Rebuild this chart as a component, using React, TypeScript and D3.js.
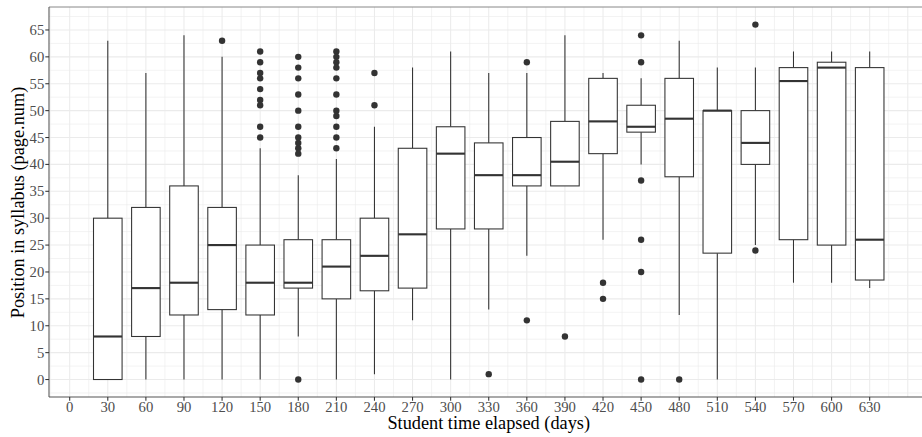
import React from "react";
import * as d3 from "d3";

const days = [30, 60, 90, 120, 150, 180, 210, 240, 270, 300, 330, 360, 390, 420, 450, 480, 510, 540, 570, 600, 630];
const lowerWhisker = [0, 0, 0, 0, 0, 8, 0, 1, 11, 0, 13, 23, 36, 26, 40, 12, 0, 25, 18, 18, 17];
const q1 = [0, 8, 12, 13, 12, 17, 15, 16.5, 17, 28, 28, 36, 36, 42, 46, 37.7, 23.5, 40, 26, 25, 18.5];
const medians = [8, 17, 18, 25, 18, 18, 21, 23, 27, 42, 38, 38, 40.5, 48, 47, 48.5, 50, 44, 55.5, 58, 26];
const q3 = [30, 32, 36, 32, 25, 26, 26, 30, 43, 47, 44, 45, 48, 56, 51, 56, 50, 50, 58, 59, 58];
const upperWhisker = [63, 57, 64, 60, 43, 38, 41, 47, 58, 61, 57, 57, 64, 57, 56, 63, 58, 58, 61, 61, 61];
const outliers = [
  [], [], [], [63],
  [61, 59, 57, 56, 54, 52, 51, 47, 45],
  [60, 58, 56, 53, 50, 47, 45, 44, 43, 42, 0],
  [61, 60, 59, 58, 56, 53, 50, 49, 47, 45, 43],
  [57, 51],
  [], [],
  [1],
  [59, 11],
  [8],
  [18, 15],
  [64, 59, 37, 26, 20, 0],
  [0],
  [],
  [66, 24],
  [], [], [],
];
const xTicks = [0, 30, 60, 90, 120, 150, 180, 210, 240, 270, 300, 330, 360, 390, 420, 450, 480, 510, 540, 570, 600, 630];
const yTicks = [0, 5, 10, 15, 20, 25, 30, 35, 40, 45, 50, 55, 60, 65];

const W = 922, H = 437;
const left = 49, top = 7, bottom = 397, right = 922;

export default function App() {
  const x = d3.scaleLinear().domain([-16.3, 671.2]).range([left, right]);
  const y = d3.scaleLinear().domain([-3.25, 69.27]).range([bottom, top]);
  const boxHalf = 11.25;
  const font = "'Liberation Serif', 'DejaVu Serif', serif";

  const vMinor = d3.range(-15, 690, 15);
  const hMinor = d3.range(-2.5, 70, 2.5);

  return (
    <svg width={W} height={H} style={{ position: "absolute", left: 0, top: 0, background: "#fff" }}>
      <rect x={0} y={0} width={W} height={H} fill="#fff" />
      {hMinor.filter(v => y(v) > top && y(v) < bottom).map(v => (
        <line key={"h" + v} x1={left} x2={right} y1={y(v)} y2={y(v)} stroke="#EBEBEB" strokeWidth={v % 5 === 0 ? 1.07 : 0.6} />
      ))}
      {vMinor.filter(v => x(v) > left && x(v) < right).map(v => (
        <line key={"v" + v} y1={top} y2={bottom} x1={x(v)} x2={x(v)} stroke="#EBEBEB" strokeWidth={v % 30 === 0 ? 1.07 : 0.6} />
      ))}
      {days.map((d, i) => {
        const cx = x(d);
        const x0 = x(d - boxHalf), x1 = x(d + boxHalf);
        return (
          <g key={"b" + d}>
            <line x1={cx} x2={cx} y1={y(q3[i])} y2={y(upperWhisker[i])} stroke="#333" strokeWidth={1.07} />
            <line x1={cx} x2={cx} y1={y(q1[i])} y2={y(lowerWhisker[i])} stroke="#333" strokeWidth={1.07} />
            <rect x={x0} y={y(q3[i])} width={x1 - x0} height={y(q1[i]) - y(q3[i])} fill="#fff" stroke="#333" strokeWidth={1.07} />
            <line x1={x0} x2={x1} y1={y(medians[i])} y2={y(medians[i])} stroke="#333" strokeWidth={2.13} />
            {outliers[i].map((o, j) => (
              <circle key={j} cx={cx} cy={y(o)} r={3.2} fill="#333" />
            ))}
          </g>
        );
      })}
      <line x1={left} x2={right} y1={top} y2={top} stroke="#888" strokeWidth={1} />
      <line x1={left} x2={left} y1={top} y2={bottom} stroke="#555" strokeWidth={1.07} />
      <line x1={left} x2={right} y1={bottom} y2={bottom} stroke="#555" strokeWidth={1.07} />
      {yTicks.map(t => (
        <g key={"yt" + t}>
          <line x1={left - 3.7} x2={left} y1={y(t)} y2={y(t)} stroke="#333" strokeWidth={1.07} />
          <text x={left - 4.7} y={y(t)} dy="0.34em" textAnchor="end" fontFamily={font} fontSize={14.7} fill="#4D4D4D">{t}</text>
        </g>
      ))}
      {xTicks.map(t => (
        <g key={"xt" + t}>
          <line x1={x(t)} x2={x(t)} y1={bottom} y2={bottom + 3.7} stroke="#333" strokeWidth={1.07} />
          <text x={x(t)} y={411.7} textAnchor="middle" fontFamily={font} fontSize={14.7} fill="#4D4D4D">{t}</text>
        </g>
      ))}
      <text x={488.7} y={429} textAnchor="middle" fontFamily={font} fontSize={18.3} fill="#000">Student time elapsed (days)</text>
      <text transform={`translate(24, 202.5) rotate(-90)`} textAnchor="middle" fontFamily={font} fontSize={18.3} fill="#000">Position in syllabus (page.num)</text>
    </svg>
  );
}
